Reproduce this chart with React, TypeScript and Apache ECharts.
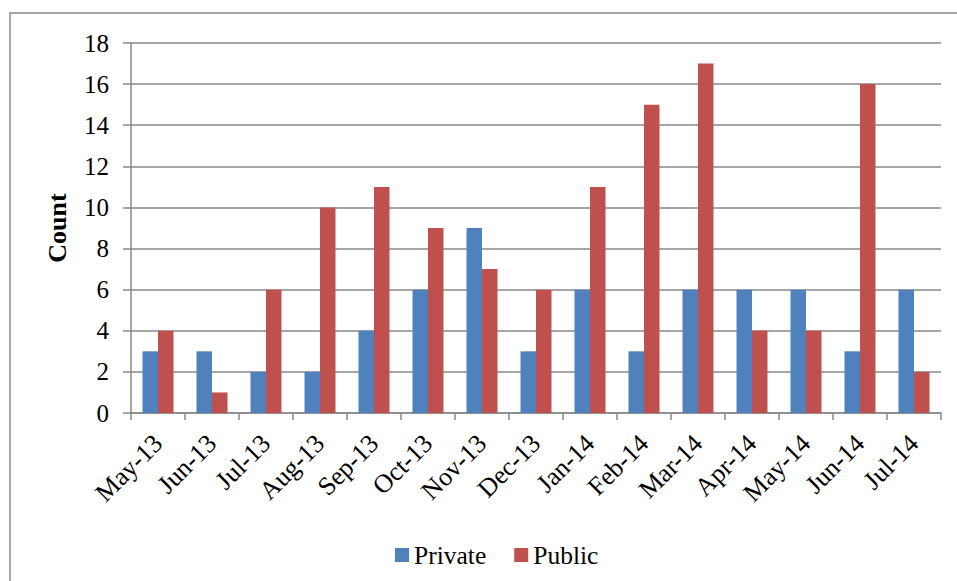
import React, { useEffect, useRef } from "react";
import * as echarts from "echarts";

const categories = [
  "May-13", "Jun-13", "Jul-13", "Aug-13", "Sep-13", "Oct-13", "Nov-13", "Dec-13",
  "Jan-14", "Feb-14", "Mar-14", "Apr-14", "May-14", "Jun-14", "Jul-14",
];
const privateValues = [3, 3, 2, 2, 4, 6, 9, 3, 6, 3, 6, 6, 6, 3, 6];
const publicValues = [4, 1, 6, 10, 11, 9, 7, 6, 11, 15, 17, 4, 4, 16, 2];
const seriesNames = ["Private", "Public"];
const yAxisTitle = "Count";

const FONT = "Liberation Serif";
const GRAY = "#898989";

export default function App() {
  const ref = useRef<HTMLDivElement>(null);
  useEffect(() => {
    if (!ref.current) return;
    const chart = echarts.init(ref.current, undefined, { renderer: "svg" });
    chart.setOption({
      animation: false,
      backgroundColor: "#ffffff",
      textStyle: { fontFamily: FONT, color: "#000" },
      graphic: [
        {
          type: "rect",
          shape: { x: 10, y: 13, width: 980, height: 620 },
          style: { fill: "none", stroke: GRAY, lineWidth: 1.5 },
          silent: true,
          z: -1,
        },
      ],
      grid: { left: 131, top: 43, right: 16, bottom: 168, containLabel: false },
      legend: {
        left: 390,
        top: 537,
        itemWidth: 14,
        itemHeight: 14,
        itemGap: 28,
        icon: "rect",
        textStyle: { fontFamily: FONT, fontSize: 25.5, color: "#000" },
        data: seriesNames,
      },
      xAxis: {
        type: "category",
        data: categories,
        axisLine: { lineStyle: { color: GRAY, width: 1.5 } },
        axisTick: { show: true, length: 7, lineStyle: { color: GRAY, width: 1.5 } },
        axisLabel: {
          rotate: 45,
          interval: 0,
          margin: 26,
          fontFamily: FONT,
          fontSize: 26,
          color: "#000",
        },
      },
      yAxis: {
        type: "value",
        min: 0,
        max: 18,
        interval: 2,
        name: yAxisTitle,
        nameLocation: "middle",
        nameGap: 61,
        nameTextStyle: { fontFamily: FONT, fontSize: 26, fontWeight: "bold", color: "#000" },
        axisLine: { show: true, lineStyle: { color: GRAY, width: 1.5 } },
        axisTick: { show: true, length: 8, lineStyle: { color: GRAY, width: 1.5 } },
        axisLabel: { margin: 22, fontFamily: FONT, fontSize: 25, color: "#000" },
        splitLine: { show: true, lineStyle: { color: GRAY, width: 1.5 } },
      },
      series: [
        {
          name: seriesNames[0],
          type: "bar",
          data: privateValues,
          barGap: "0%",
          barCategoryGap: "42.6%",
          itemStyle: { color: "#4F81BD" },
        },
        {
          name: seriesNames[1],
          type: "bar",
          data: publicValues,
          barGap: "0%",
          barCategoryGap: "42.6%",
          itemStyle: { color: "#C0504D" },
        },
      ],
    });
    return () => chart.dispose();
  }, []);
  return (
    <div
      ref={ref}
      style={{ position: "fixed", left: 0, top: 0, width: 957, height: 581 }}
    />
  );
}
